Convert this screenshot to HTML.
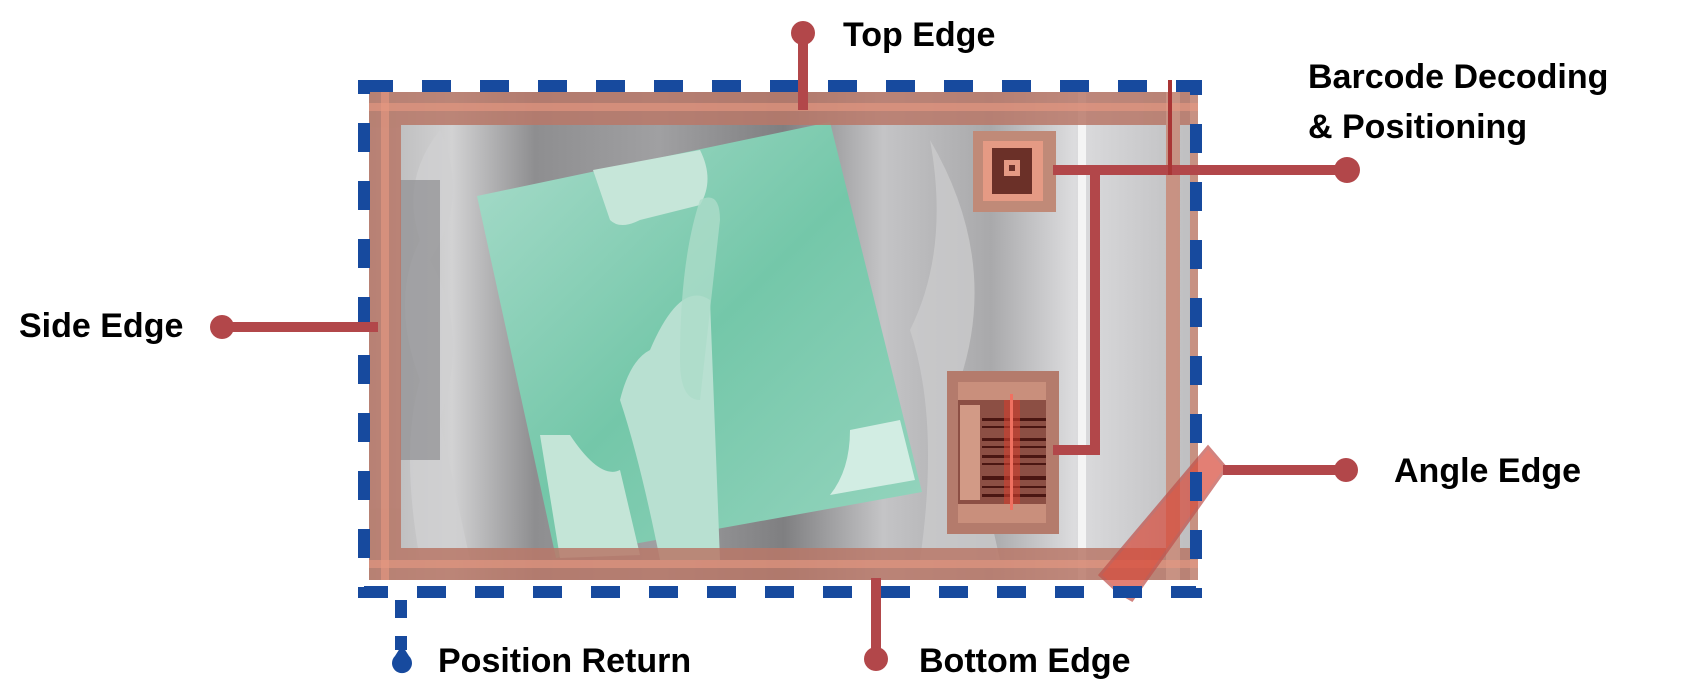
<!DOCTYPE html>
<html><head><meta charset="utf-8"><style>
html,body{margin:0;padding:0;background:#fff;}
svg{display:block}
text{font-family:"Liberation Sans",sans-serif;font-weight:bold;fill:#000;font-size:34px}
</style></head><body>
<svg width="1694" height="691" viewBox="0 0 1694 691" xmlns="http://www.w3.org/2000/svg">
<defs>
<linearGradient id="gr" x1="0" x2="1" y1="0" y2="0">
<stop offset="0" stop-color="#b5b5b6"/><stop offset="0.1" stop-color="#d2d2d3"/><stop offset="0.2" stop-color="#8e8e90"/>
<stop offset="0.35" stop-color="#a0a0a2"/><stop offset="0.5" stop-color="#7f7f81"/><stop offset="0.62" stop-color="#c4c4c6"/>
<stop offset="0.75" stop-color="#a9a9ab"/><stop offset="0.85" stop-color="#dcdcde"/><stop offset="1" stop-color="#bdbdbf"/>
</linearGradient>
<linearGradient id="gn" x1="0" x2="1" y1="0" y2="1">
<stop offset="0" stop-color="#a9dccb"/><stop offset="0.5" stop-color="#74c7a9"/><stop offset="1" stop-color="#97d5bf"/>
</linearGradient>
</defs>
<rect x="369" y="92" width="829" height="488" fill="url(#gr)"/>
<path d="M440 130 Q470 200 430 260 Q470 330 440 420 L470 560 L420 560 Q400 450 420 380 Q390 300 420 240 Q400 180 440 130Z" fill="#cfcfd1" opacity="0.8"/>
<rect x="400" y="180" width="40" height="280" fill="#8f8f91" opacity="0.7"/>
<path d="M930 140 Q1000 260 960 380 L1000 560 L920 560 Q940 420 910 330 Q950 250 930 140Z" fill="#cacacc" opacity="0.8"/>
<rect x="1078" y="92" width="8" height="488" fill="#f4f4f4"/>
<polygon points="477,196 830,122 922,492 556,558" fill="url(#gn)"/>
<path d="M593 170 L700 150 Q715 180 700 205 L640 220 Q620 230 610 220Z" fill="#c6e6d9"/>
<path d="M650 350 Q680 280 710 300 L720 560 L660 560 Q640 460 620 400 Q630 360 650 350Z" fill="#b8e0d1"/>
<path d="M700 200 Q720 190 720 220 L700 400 Q680 400 680 360 Q680 260 700 200Z" fill="#acdcc9" opacity="0.8"/>
<path d="M540 435 L570 435 Q600 480 620 470 L640 555 L560 558Z" fill="#c4e5d7"/>
<path d="M850 430 L900 420 L915 480 L830 495 Q850 470 850 430Z" fill="#d2ede3"/>
<g opacity="0.85">
<rect x="369" y="92" width="829" height="33" fill="#b87868"/>
<rect x="369" y="548" width="829" height="32" fill="#b87868"/>
<rect x="369" y="92" width="32" height="488" fill="#b87868"/>
<rect x="1166" y="92" width="14" height="488" fill="#c98a78"/>
<rect x="1190" y="92" width="8" height="488" fill="#c98a78"/>
</g>
<rect x="369" y="103" width="829" height="8" fill="#e79a82" opacity="0.6"/>
<rect x="369" y="560" width="829" height="8" fill="#e79a82" opacity="0.6"/>
<rect x="381" y="92" width="8" height="488" fill="#e79a82" opacity="0.6"/>
<rect x="973" y="131" width="83" height="81" fill="#c08a78"/>
<rect x="983" y="141" width="60" height="60" fill="#e59a84"/>
<rect x="992" y="148" width="40" height="46" fill="#6b3028"/>
<rect x="1004" y="160" width="16" height="16" fill="#e59a84"/>
<rect x="1009" y="165" width="6" height="6" fill="#6b3028"/>
<rect x="947" y="371" width="112" height="163" fill="#b47b6c"/>
<rect x="958" y="382" width="88" height="141" fill="#c98f7c"/>
<rect x="958" y="400" width="88" height="104" fill="#8c4f44"/>
<g fill="#4a1612">
<rect x="982" y="418" width="64" height="3"/><rect x="982" y="426" width="64" height="2"/><rect x="982" y="438" width="64" height="3"/>
<rect x="982" y="446" width="64" height="2"/><rect x="982" y="455" width="64" height="3"/><rect x="982" y="463" width="64" height="2"/>
<rect x="982" y="476" width="64" height="4"/><rect x="982" y="486" width="64" height="2"/><rect x="982" y="494" width="64" height="3"/>
</g>
<rect x="1004" y="400" width="16" height="104" fill="#d0402e" opacity="0.6"/>
<rect x="1010" y="394" width="3" height="116" fill="#f07060"/>
<rect x="960" y="405" width="20" height="95" fill="#d29a86"/>
<polygon points="1100,575 1208,447 1226,468 1132,600 1118,592" fill="#d84a3a" opacity="0.7" stroke="#c0504a" stroke-width="3"/>
<rect x="364" y="86" width="832" height="506" fill="none" stroke="#174a9e" stroke-width="12" stroke-dasharray="29 29"/>
<line x1="401" y1="600" x2="401" y2="650" stroke="#174a9e" stroke-width="12" stroke-dasharray="18 18"/>
<path d="M402 645 L409 656 A10 10 0 1 1 395 656 Z" fill="#174a9e"/>
<g stroke="#b2474a" stroke-width="10" fill="none">
<line x1="803" y1="34" x2="803" y2="110"/>
<line x1="222" y1="327" x2="378" y2="327"/>
<line x1="1053" y1="170" x2="1347" y2="170"/>
<line x1="1095" y1="170" x2="1095" y2="454"/>
<line x1="1053" y1="450" x2="1100" y2="450"/>
<line x1="1223" y1="470" x2="1346" y2="470"/>
<line x1="876" y1="578" x2="876" y2="658"/>
</g>
<line x1="1170" y1="80" x2="1170" y2="175" stroke="#a93535" stroke-width="4"/>
<g fill="#b2474a">
<circle cx="803" cy="33" r="12"/>
<circle cx="222" cy="327" r="12"/>
<circle cx="1347" cy="170" r="13"/>
<circle cx="1346" cy="470" r="12"/>
<circle cx="876" cy="659" r="12"/>
</g>
<text x="843" y="46">Top Edge</text>
<text x="1308" y="88">Barcode Decoding</text>
<text x="1308" y="138">&amp; Positioning</text>
<text x="19" y="337">Side Edge</text>
<text x="1394" y="482">Angle Edge</text>
<text x="919" y="672">Bottom Edge</text>
<text x="438" y="672">Position Return</text>
</svg>
</body></html>
